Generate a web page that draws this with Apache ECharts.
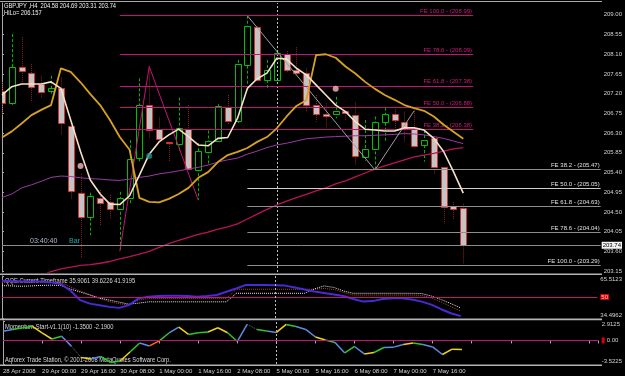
<!DOCTYPE html>
<html><head><meta charset="utf-8">
<script src="https://cdn.jsdelivr.net/npm/echarts@6/dist/echarts.min.js"></script>
<style>html,body{margin:0;padding:0;background:#000;}#c{width:625px;height:376px;}</style>
</head><body><div id="c"></div>
<script>
// ---------- data ----------
const timeLabels = ['28 Apr 2008','29 Apr 00:00','29 Apr 16:00','30 Apr 08:00','1 May 00:00','1 May 16:00','2 May 08:00','5 May 00:00','5 May 16:00','6 May 08:00','7 May 00:00','7 May 16:00'];
const open  = [207.26,206.98,207.80,207.68,207.42,207.25,207.32,206.46,204.93,204.38,204.83,204.73,204.58,204.82,205.72,206.94,206.39,206.10,206.05,206.39,205.46,205.86,206.13,206.89,206.58,207.86,208.73,207.51,207.51,208.10,207.74,207.68,206.94,206.73,206.73,206.80,206.71,205.76,205.95,206.55,206.73,206.56,206.39,206.03,206.18,205.52,204.64,204.58];
const high  = [207.47,208.56,208.49,207.88,207.61,207.61,207.57,206.47,205.37,204.94,205.00,204.89,204.96,206.14,207.55,207.82,206.66,206.10,207.11,206.94,206.07,206.36,206.96,207.17,207.97,208.98,208.74,207.97,208.16,208.17,208.26,207.78,207.17,206.98,207.13,206.81,207.00,206.60,206.68,206.88,206.90,206.79,206.81,206.37,206.22,205.53,204.73,204.69];
const low   = [206.71,206.94,207.40,207.02,207.10,207.17,206.26,204.78,203.45,203.97,204.20,204.36,203.60,204.70,205.65,206.20,206.09,205.65,205.88,205.44,204.77,205.57,206.10,206.49,206.52,207.40,207.52,207.28,207.51,207.67,207.63,206.80,206.56,206.42,206.64,206.58,205.57,205.67,205.46,206.12,206.42,206.09,205.98,205.65,205.36,204.24,204.34,203.31];
const close = [206.99,207.81,207.70,207.37,207.23,207.32,206.51,204.98,204.39,204.87,204.72,204.57,204.82,205.71,206.94,206.36,206.17,206.07,206.41,205.47,205.89,206.12,206.92,206.58,207.87,208.75,207.53,207.74,208.12,207.74,207.67,206.96,206.73,206.68,206.80,206.75,205.78,205.94,206.56,206.73,206.59,206.42,206.01,206.14,205.52,204.60,204.58,203.74];

const maFast  = [207.17,207.36,207.42,207.42,207.42,207.47,207.32,206.60,205.88,205.23,204.91,204.68,204.67,204.87,205.34,205.82,206.10,206.26,206.39,206.22,206.03,206.01,206.18,206.20,206.64,207.32,207.54,207.67,208.01,207.99,207.78,207.63,207.40,207.17,206.94,206.79,206.56,206.39,206.37,206.35,206.35,206.42,206.42,206.37,206.18,205.88,205.42,204.93];
const maStep  = [206.20,206.34,206.52,206.71,206.83,206.94,207.78,207.70,207.46,207.19,206.94,206.60,206.21,205.92,204.82,204.73,204.72,204.80,204.91,205.05,205.28,205.41,205.64,205.80,205.87,205.96,206.10,206.21,206.41,206.68,206.92,207.05,208.08,208.10,208.02,207.82,207.66,207.47,207.31,207.17,207.06,206.94,206.87,206.81,206.68,206.49,206.33,206.17];
const maMid   = [204.83,204.91,205.05,205.12,205.20,205.29,205.32,205.31,205.28,205.26,205.25,205.23,205.22,205.25,205.29,205.32,205.37,205.40,205.44,205.48,205.52,205.57,205.64,205.69,205.73,205.82,205.89,205.97,206.03,206.07,206.12,206.17,206.19,206.21,206.22,206.23,206.24,206.24,206.25,206.26,206.27,206.29,206.28,206.26,206.22,206.18,206.12,206.06];
const maLong  = [202.80,202.86,202.92,202.98,203.05,203.14,203.20,203.24,203.28,203.30,203.33,203.37,203.43,203.48,203.54,203.60,203.69,203.78,203.85,203.92,203.99,204.04,204.11,204.16,204.23,204.34,204.45,204.56,204.66,204.75,204.83,204.90,204.98,205.05,205.14,205.21,205.30,205.39,205.48,205.55,205.62,205.69,205.76,205.80,205.84,205.89,205.94,205.97];

const zigzagA = [[12,203.60],[15,207.82],[20,204.77]];
const zigzagB = [[25,208.98],[38,205.46],[42,206.81]];
const fePct      = ['38.2','50.0','61.8','78.6','100.0'];
const feUpperVal = [206.38,206.88,207.38,208.09,208.99];
const feLowerVal = [205.47,205.05,204.63,204.04,203.29];
const dotsPink = [[8,205.55],[34,207.31]];
const dotsTeal = [[15,205.78]];
const bid = 203.74;
const sessionBar = 28;

const priceTicks = [209.00,208.55,208.10,207.65,207.20,206.75,206.30,205.85,205.40,204.95,204.50,204.05,203.60,203.15];
const qqeTicks = [34.4962,50,65.5123];
const momTicks = [-3.5225,0,2.9125];

const qqeRsi  = [61.92,61.70,61.40,61.40,61.40,60.80,59.68,54.82,47.72,45.12,43.98,42.71,41.97,43.98,48.99,50.19,50.71,50.86,50.94,50.71,50.19,50.71,51.46,53.93,56.32,58.93,58.93,58.93,58.71,58.41,57.07,55.57,54.08,52.96,51.83,50.71,48.47,46.60,46.97,48.47,48.99,48.99,48.09,46.60,44.36,40.99,38.00,35.91];
const qqeFast = [58.41,58.19,57.96,58.19,58.56,58.71,58.56,55.94,53.70,51.46,49.22,47.72,46.23,44.73,45.48,46.45,46.45,46.45,46.45,46.45,46.45,46.45,46.45,46.45,52.73,52.73,52.73,52.73,52.73,52.73,52.73,52.73,55.94,58.19,57.07,54.45,52.73,52.73,52.73,52.73,52.73,52.73,52.73,52.58,50.71,48.09,45.12,41.92];
const qqeSlow = [60.80,60.80,60.80,60.80,60.80,60.80,60.80,57.44,54.45,51.83,48.84,46.60,45.12,44.20,47.72,48.84,48.84,48.84,48.84,48.84,48.84,48.84,48.84,48.84,55.72,55.72,55.72,55.72,55.72,55.72,55.72,55.72,55.72,56.32,55.57,53.33,51.46,51.46,51.46,51.46,51.46,51.46,51.46,51.24,49.22,46.23,42.86,39.62];

const momentum = [1.39,1.65,1.90,2.10,1.12,0.22,0.64,-0.85,-2.54,-2.77,-2.40,-3.29,-3.07,-1.72,-0.37,-0.82,-0.07,1.12,1.99,0.90,1.15,1.27,1.90,1.15,-0.15,2.40,1.65,1.42,1.20,2.40,2.10,1.65,0.52,0.07,-0.30,-1.87,-0.90,-2.02,-1.80,-1.05,-1.00,-0.60,-0.37,-0.60,-0.97,-2.10,-1.30,-1.35];
const momSegColor = 'BGGYYGBDYBGGYGBOGBYGGYYGBDGBYGBBYGBGBYGBBYGBBYY';

// ---------- chart ----------
const FONT = "'Liberation Sans',Arial,sans-serif";
const nBars = open.length;
const xMax = 61;
const segColors = {B:'#5b8ee0', G:'#2ec82e', Y:'#f2d21a', O:'#ff6a1a', D:'#707070'};
const idx = a => a.map((v,i)=>[i,v]);

const candleData = open.map((o,i)=>[i,o,close[i],low[i],high[i]]);
function renderCandle(params, api){
  const i = api.value(0), o = api.value(1), c = api.value(2), l = api.value(3), h = api.value(4);
  const pO = api.coord([i,o]), pC = api.coord([i,c]), pH = api.coord([i,h]), pL = api.coord([i,l]);
  const bull = c >= o;
  const w = 6;
  const top = Math.min(pO[1],pC[1]), bot = Math.max(pO[1],pC[1]);
  const x = Math.round(pO[0]);
  return {type:'group', children:[
    {type:'line', shape:{x1:x+0.5,y1:pH[1],x2:x+0.5,y2:pL[1]},
     style:{stroke: bull?'#00b400':'#8a2020', lineWidth:1, lineDash: bull?[3,2]:[1,1]}},
    {type:'rect', shape:{x:x-w/2+0.5, y:Math.round(top)+0.5, width:w, height:Math.max(Math.round(bot-top),1)},
     style:{fill: bull?'#000':'#c4c4c4', stroke: bull?'#00c000':'#d03434', lineWidth:1}}
  ]};
}
const momData = momentum.slice(0,-1).map((m,i)=>[i,m,momentum[i+1],i]);
function renderMom(params, api){
  const i = api.value(0);
  const p1 = api.coord([i, api.value(1)]), p2 = api.coord([i+1, api.value(2)]);
  const code = momSegColor[api.value(3)];
  return {type:'line', shape:{x1:p1[0],y1:p1[1],x2:p2[0],y2:p2[1]},
    style:{stroke:segColors[code], lineWidth: code==='D'?1:1.5, lineDash: code==='D'?[1,1]:null}};
}

const vline = () => ({xAxis: sessionBar, lineStyle:{color:'#bdbdbd', type:[2,2], width:1}, label:{show:false}});

const feUpper = fePct.map((p,k)=>[
  {coord:[zigzagA[0][0], feUpperVal[k]], lineStyle:{color:'#c2157a', width:1, type:'solid'},
   label:{show:true, position:'insideEndTop', distance:1, color:'#d0187f', fontSize:6, fontFamily:FONT,
          formatter:'FE '+p+' - ('+feUpperVal[k].toFixed(2)+')'}},
  {coord:[nBars, feUpperVal[k]]}
]);
const feLower = fePct.map((p,k)=>[
  {coord:[zigzagB[0][0], feLowerVal[k]], lineStyle:{color: k===1?'#cfcfcf':'#8e8e8e', width:1, type:'solid'},
   label:{show:true, position:'insideEndTop', distance:1, color:'#e0e0e0', fontSize:6, fontFamily:FONT,
          formatter:'FE '+p+' - ('+feLowerVal[k].toFixed(2)+')'}},
  {coord:[xMax, feLowerVal[k]]}
]);

const axisLbl = {color:'#d2d2d2', fontSize:6, fontFamily:FONT, margin:3};
const yCommon = {type:'value', position:'right', splitLine:{show:false},
  axisLine:{show:true, lineStyle:{color:'#a8a8a8'}}};
const near = (a,b)=>Math.abs(a-b)<1e-6;
const tick = vals => ({show:true, length:2, customValues:vals, lineStyle:{color:'#a8a8a8'}});

const txt = (x, y, text, fill, size, sx) => ({type:'text', x:x, y:y, scaleX:sx, silent:true,
  style:{text:text, fill:fill, font:size+'px '+FONT, textVerticalAlign:'middle', verticalAlign:'middle'}});

const option = {
  backgroundColor:'#000',
  animation:false,
  textStyle:{fontFamily:FONT},
  grid:[
    {left:2, right:23, top:3, height:269},
    {left:2, right:23, top:276, height:42},
    {left:2, right:23, top:321, height:43}
  ],
  xAxis:[0,1,2].map(g=>({type:'value', gridIndex:g, min:0, max:xMax, interval:4,
    show: g===2, splitLine:{show:false}, axisLine:{show:false},
    axisTick:{show:g===2, length:3, lineStyle:{color:'#a8a8a8'}},
    axisLabel:{show:g===2, align:'left', color:'#d2d2d2', fontSize:6, fontFamily:FONT, margin:4,
      formatter:v=>timeLabels[v/4]||''}})),
  yAxis:[
    Object.assign({}, yCommon, {gridIndex:0, min:203.13, max:209.27, axisTick:tick(priceTicks),
      axisLabel:Object.assign({}, axisLbl, {customValues:priceTicks, formatter:v=>v.toFixed(2)})}),
    Object.assign({}, yCommon, {gridIndex:1, min:34.4962, max:65.5123, axisTick:tick(qqeTicks),
      axisLabel:Object.assign({}, axisLbl, {customValues:qqeTicks,
        formatter:v=> near(v,50)?'{r|50}': near(v,65.5123)?'{t|65.5123}':'{b|34.4962}',
        rich:{r:{backgroundColor:'#e00000', color:'#ffd0d0', fontSize:6, padding:[0,1]},
              t:{fontSize:6, color:'#d2d2d2', padding:[6,0,0,0]},
              b:{fontSize:6, color:'#d2d2d2', padding:[0,0,6,0]}}})}),
    Object.assign({}, yCommon, {gridIndex:2, min:-3.5225, max:2.9125, axisTick:tick(momTicks),
      axisLabel:Object.assign({}, axisLbl, {customValues:momTicks,
        formatter:v=> near(v,0)?'{r|}{n|0.00}': near(v,2.9125)?'{t|2.9125}':'{b|-3.5225}',
        rich:{r:{backgroundColor:'#e00000', width:3, height:6}, n:{fontSize:6, color:'#d2d2d2', padding:[0,0,0,2]},
              t:{fontSize:6, color:'#d2d2d2', padding:[6,0,0,0]},
              b:{fontSize:6, color:'#d2d2d2', padding:[0,0,6,0]}}})})
  ],
  series:[
    {type:'custom', name:'candles', xAxisIndex:0, yAxisIndex:0, renderItem:renderCandle, data:candleData,
     encode:{x:0, y:[1,2,3,4]}, clip:true, z:2},
    {type:'line', name:'maLong', xAxisIndex:0, yAxisIndex:0, data:idx(maLong), showSymbol:false, clip:true, z:3,
     lineStyle:{color:'#b8145a', width:1.3},
     markLine:{symbol:'none', silent:true, animation:false, data:[
       {yAxis:bid, lineStyle:{color:'#8a8a8a', width:1, type:'solid'},
        label:{show:true, position:'end', distance:1, formatter:bid.toFixed(2), color:'#000', backgroundColor:'#f4f4f4',
               fontSize:6, fontFamily:FONT, padding:[1,1,0,1]}},
       vline()
     ]}},
    {type:'line', name:'maMid', xAxisIndex:0, yAxisIndex:0, data:idx(maMid), showSymbol:false, clip:true, z:3,
     lineStyle:{color:'#9a3aa8', width:1},
     markLine:{symbol:'none', silent:true, animation:false, data: feUpper.concat(feLower)}},
    {type:'line', name:'zigzagA', xAxisIndex:0, yAxisIndex:0, data:zigzagA, showSymbol:false, z:4,
     lineStyle:{color:'#c2157a', width:1}},
    {type:'line', name:'zigzagB', xAxisIndex:0, yAxisIndex:0, data:zigzagB, showSymbol:false, z:4,
     lineStyle:{color:'#a0a0a0', width:1}},
    {type:'line', name:'maStep', xAxisIndex:0, yAxisIndex:0, data:idx(maStep), showSymbol:false, clip:true, z:5,
     lineStyle:{color:'#d9a21e', width:1.8}},
    {type:'line', name:'maFast', xAxisIndex:0, yAxisIndex:0, data:idx(maFast), showSymbol:false, clip:true, z:6,
     lineStyle:{color:'#f6e2c4', width:1.6}},
    {type:'scatter', name:'pink', xAxisIndex:0, yAxisIndex:0, data:dotsPink, symbolSize:6, z:7,
     itemStyle:{color:'#ffb8c0'}},
    {type:'scatter', name:'teal', xAxisIndex:0, yAxisIndex:0, data:dotsTeal, symbolSize:6, z:7,
     itemStyle:{color:'#1f8f8f'}},
    // QQE
    {type:'line', name:'qqeSlow', xAxisIndex:1, yAxisIndex:1, data:idx(qqeSlow), showSymbol:false, z:3,
     lineStyle:{color:'#b0402c', width:1, type:[1,1]},
     markLine:{symbol:'none', silent:true, animation:false, data:[
       {yAxis:50, lineStyle:{color:'#c2157a', width:1, type:'solid'}, label:{show:false}}, vline()]}},
    {type:'line', name:'qqeFast', xAxisIndex:1, yAxisIndex:1, data:idx(qqeFast), showSymbol:false, z:3,
     lineStyle:{color:'#e8e8e8', width:1, type:[1,1]}},
    {type:'line', name:'qqeRsi', xAxisIndex:1, yAxisIndex:1, data:idx(qqeRsi), showSymbol:false, z:4,
     lineStyle:{color:'#4a2ad4', width:2}},
    // Momentum
    {type:'custom', name:'momentum', xAxisIndex:2, yAxisIndex:2, renderItem:renderMom, data:momData,
     encode:{x:0, y:[1,2]}, z:4},
    {type:'line', name:'momZero', xAxisIndex:2, yAxisIndex:2, data:[], showSymbol:false, z:2,
     markLine:{symbol:'none', silent:true, animation:false, data:[
       {yAxis:0, lineStyle:{color:'#c2157a', width:1, type:'solid'}, label:{show:false}}, vline()]}}
  ],
  graphic:[
    {type:'line', shape:{x1:0,y1:1.5,x2:602,y2:1.5}, style:{stroke:'#a8a8a8', lineWidth:1}, silent:true},
    {type:'line', shape:{x1:0,y1:274.2,x2:602,y2:274.2}, style:{stroke:'#b4b4b4', lineWidth:1.6}, silent:true},
    {type:'line', shape:{x1:0,y1:319.4,x2:602,y2:319.4}, style:{stroke:'#b4b4b4', lineWidth:1.6}, silent:true},
    {type:'line', shape:{x1:0,y1:365.2,x2:602,y2:365.2}, style:{stroke:'#b4b4b4', lineWidth:1.6}, silent:true},
    txt(4, 6, 'GBPJPY ,H4  204.58 204.69 203.31 203.74', '#f0f0f0', 7.5, 0.77),
    txt(4, 13, 'HiLo= 206.157', '#f0f0f0', 7.5, 0.77),
    txt(30, 241, '03:40:40', '#aebcd8', 8, 0.88),
    txt(69, 241, 'Bar', '#1fa9a9', 8, 0.88),
    txt(5, 281, 'QQE Current Timeframe 35.9061 39.6226 41.9195', '#d8d8d8', 7.5, 0.77),
    txt(5, 326.5, 'Momentum-Start-v1.1(10) -1.3500 -2.1900', '#d8d8d8', 7.5, 0.77),
    txt(5, 360, 'Aqforex Trade Station, \u00a9 2001-2008 MetaQuotes Software Corp.', '#d8d8d8', 7.5, 0.77)
  ]
};
const chart = echarts.init(document.getElementById('c'), null, {renderer:'canvas'});
chart.setOption(option);
</script>
</body></html>
